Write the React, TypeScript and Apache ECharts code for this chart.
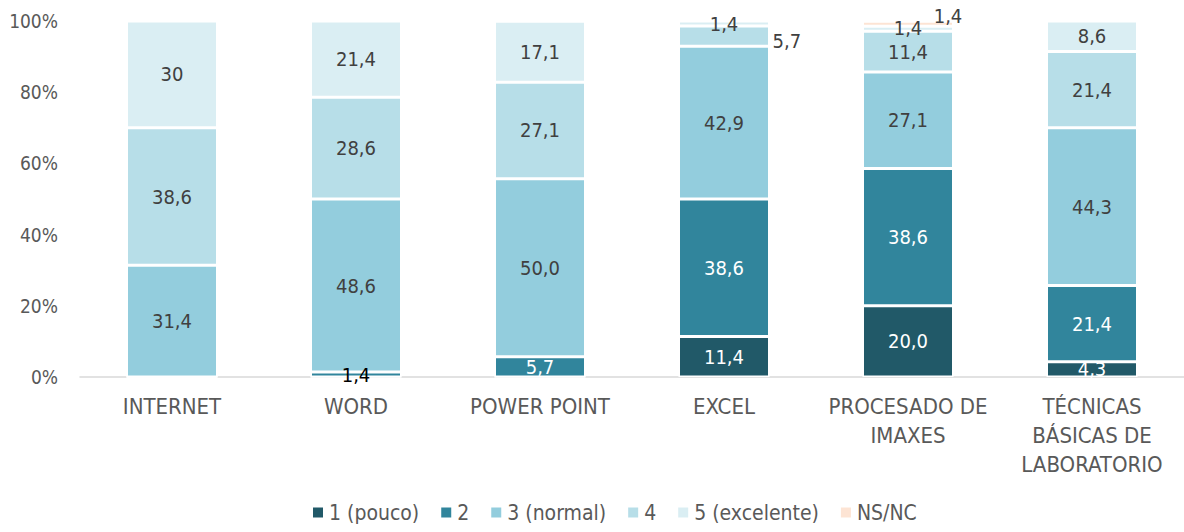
import React, { useEffect, useRef } from "react";
import * as echarts from "echarts";

const categories = ["INTERNET", "WORD", "POWER POINT", "EXCEL", "PROCESADO DE\nIMAXES", "TÉCNICAS\nBÁSICAS DE\nLABORATORIO"];
const seriesNames = ["1 (pouco)", "2", "3 (normal)", "4", "5 (excelente)", "NS/NC"];
const s1 = [0, 0, 0, 11.4, 20.0, 4.3];
const s2 = [0, 1.4, 5.7, 38.6, 38.6, 21.4];
const s3 = [31.4, 48.6, 50.0, 42.9, 27.1, 44.3];
const s4 = [38.6, 28.6, 27.1, 5.7, 11.4, 21.4];
const s5 = [30, 21.4, 17.1, 1.4, 1.4, 8.6];
const s6 = [0, 0, 0, 0, 1.4, 0];
const yTicks = [0, 20, 40, 60, 80, 100];
const colors = ["#215968", "#31859c", "#93cddd", "#b7dee8", "#daeef3", "#fde4d4"];
const labelColors = ["#ffffff", "#ffffff", "#404040", "#404040", "#404040", "#404040"];

const FONT = "'Liberation Sans Narrow', 'Arial Narrow', 'DejaVu Sans Condensed', sans-serif";

const fmt = (v: number) => (v === 30 ? "30" : v.toFixed(1).replace(".", ","));

export default function App() {
  const ref = useRef<HTMLDivElement>(null);
  useEffect(() => {
    if (!ref.current) return;
    const chart = echarts.init(ref.current, null, { renderer: "svg" });
    const all = [s1, s2, s3, s4, s5, s6];
    const series = all.map((arr, si) => ({
      name: seriesNames[si],
      type: "bar",
      stack: "total",
      barWidth: 91,
      itemStyle: { color: colors[si], borderColor: "#ffffff", borderWidth: 1.5 },
      label: {
        show: true,
        position: "inside",
        color: labelColors[si],
        fontFamily: FONT,
        fontSize: 20,
        formatter: (p: any) => fmt(p.value),
      },
      data: arr.map((v, ci) => {
        if (v === 0) return { value: v, label: { show: false } };
        const item: any = { value: v };
        if (si === 1 && ci === 1) item.label = { color: "#000000", offset: [0, 0] };
        if (si === 3 && ci === 3) item.label = { position: "right", offset: [-2, 5] };
        if (si === 4 && ci === 3) item.label = { offset: [0, 1] };
        if (si === 4 && ci === 4) item.label = { offset: [0, -1] };
        if (si === 5 && ci === 4) item.label = { position: "top", offset: [40, 10] };
        return item;
      }),
    }));
    chart.setOption({
      animation: false,
      color: colors,
      grid: { left: 80, top: 21, width: 1107, height: 356, containLabel: false },
      legend: {
        bottom: 4,
        left: 306,
        itemWidth: 12,
        itemHeight: 12,
        itemGap: 20,
        icon: "rect",
        textStyle: { fontFamily: FONT, fontSize: 21, color: "#595959" },
        data: seriesNames,
      },
      xAxis: {
        type: "category",
        data: categories,
        axisLine: { lineStyle: { color: "#d9d9d9", width: 1.5 } },
        axisTick: { show: false },
        axisLabel: {
          fontFamily: FONT,
          fontSize: 22,
          color: "#595959",
          lineHeight: 29,
          margin: 15,
          interval: 0,
        },
      },
      yAxis: {
        type: "value",
        min: yTicks[0],
        max: yTicks[yTicks.length - 1],
        interval: 20,
        splitLine: { show: false },
        axisLine: { show: false },
        axisTick: { show: false },
        axisLabel: {
          fontFamily: FONT,
          fontSize: 19,
          color: "#595959",
          margin: 22,
          formatter: (v: number) => v + "%",
        },
      },
      series,
    });
    return () => chart.dispose();
  }, []);
  return <div ref={ref} style={{ width: 1184, height: 532, position: "absolute", left: 0, top: 0 }} />;
}
